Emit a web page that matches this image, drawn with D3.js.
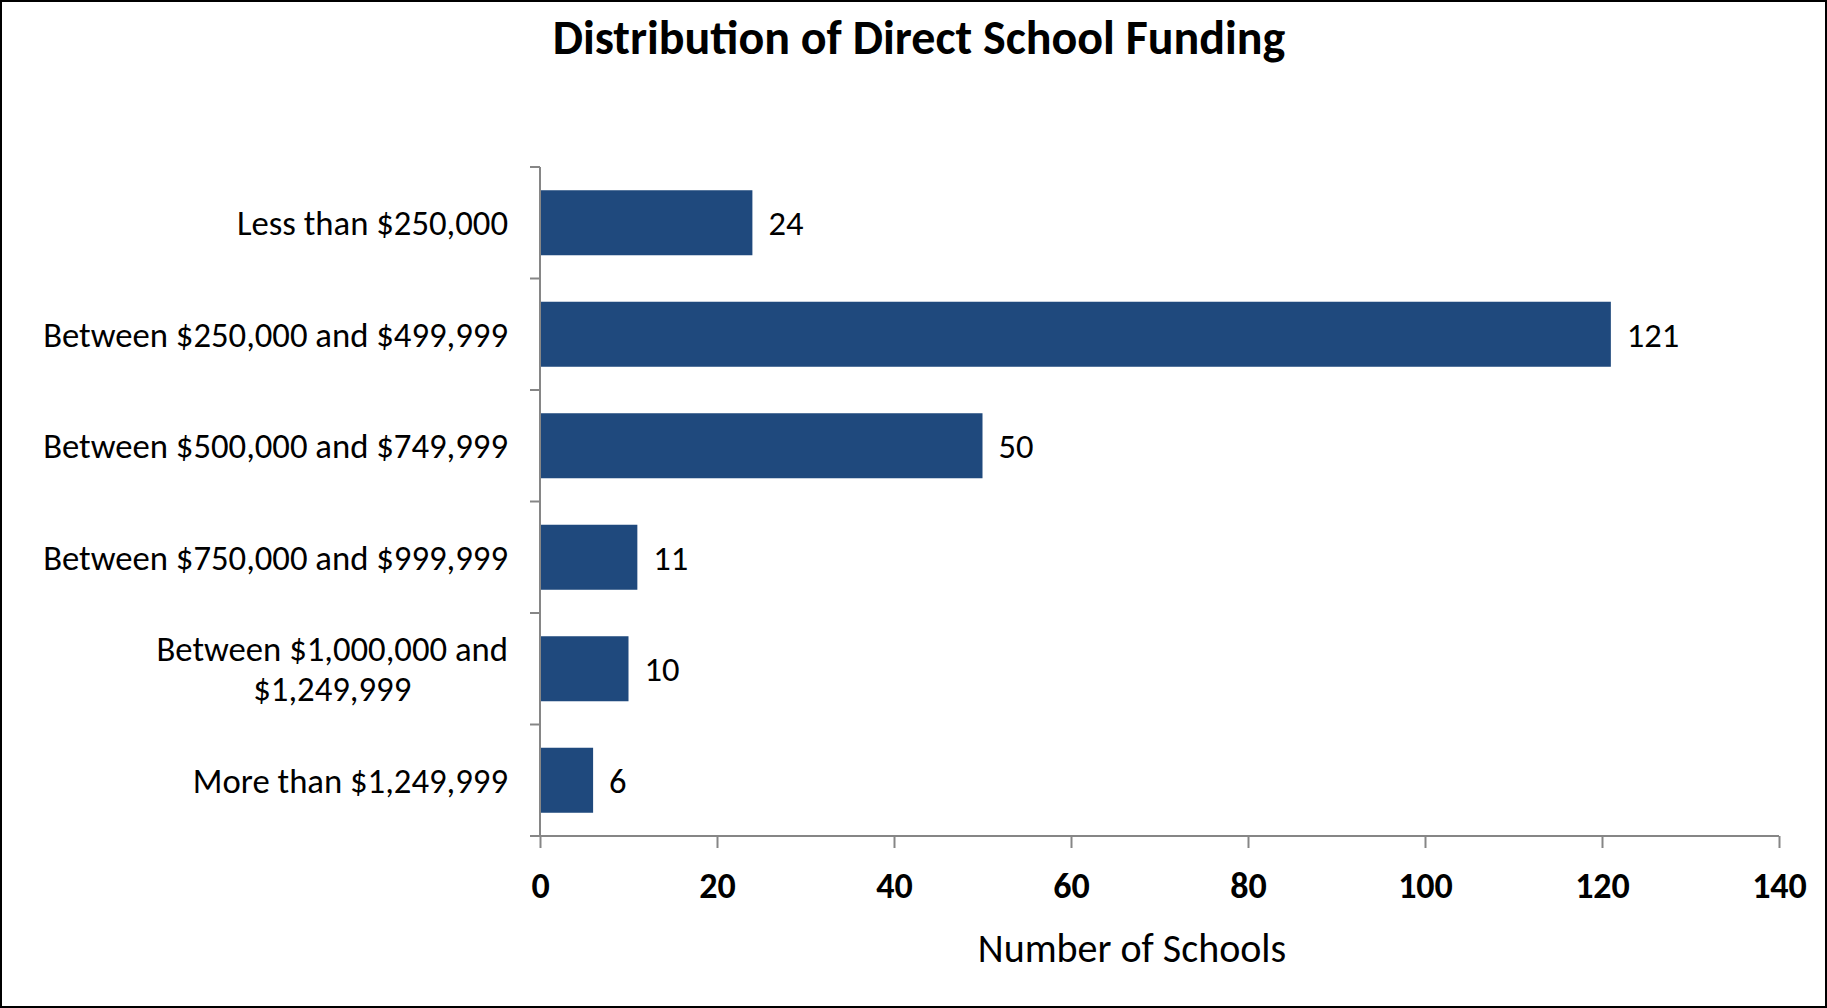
<!DOCTYPE html>
<html lang="en">
  <head>
    <title>Distribution of Direct School Funding</title>
    <meta charset="utf-8" />
    <script src="https://cdn.jsdelivr.net/npm/d3@7"></script>
    <style>
      body { margin: 0; background: white; }
      text { font-family: Carlito, Calibri, Lato, sans-serif; fill: #000; }
    </style>
  </head>
  <body>
    <script>
      // data
      const categories = [
        ["Less than $250,000"],
        ["Between $250,000 and $499,999"],
        ["Between $500,000 and $749,999"],
        ["Between $750,000 and $999,999"],
        ["Between $1,000,000 and", "$1,249,999"],
        ["More than $1,249,999"],
      ];
      const schools = [24, 121, 50, 11, 10, 6];
      const xTicks = [0, 20, 40, 60, 80, 100, 120, 140];

      const width = 1827,
        height = 1008;
      const margin = { top: 167, right: 48, bottom: 172, left: 540 };

      const svg = d3
        .select("body")
        .append("svg")
        .attr("width", width)
        .attr("height", height);

      // outer frame
      svg
        .append("rect")
        .attr("x", 1)
        .attr("y", 1)
        .attr("width", width - 2)
        .attr("height", height - 2)
        .attr("fill", "white")
        .attr("stroke", "black")
        .attr("stroke-width", 2);

      const x = d3
        .scaleLinear()
        .domain([0, 140])
        .range([margin.left, width - margin.right]);

      const keys = categories.map((c) => c.join(" "));
      const pad = 0.417;
      const y = d3
        .scaleBand()
        .domain(keys)
        .range([margin.top, height - margin.bottom])
        .paddingInner(pad)
        .paddingOuter(pad / 2);

      // title
      svg
        .append("text")
        .attr("x", 919)
        .attr("y", 54)
        .attr("text-anchor", "middle")
        .style("font-size", "48px")
        .style("font-weight", "bold")
        .text("Distribution of Direct School Funding");

      // bars
      svg
        .selectAll("rect.bar")
        .data(schools)
        .enter()
        .append("rect")
        .attr("class", "bar")
        .attr("x", x(0))
        .attr("y", (d, i) => y(keys[i]))
        .attr("width", (d) => x(d) - x(0))
        .attr("height", y.bandwidth())
        .attr("fill", "#1f497d");

      // value labels
      svg
        .selectAll("text.val")
        .data(schools)
        .enter()
        .append("text")
        .attr("class", "val")
        .attr("x", (d) => x(d) + 16)
        .attr("y", (d, i) => y(keys[i]) + y.bandwidth() / 2)
        .attr("dy", "0.36em")
        .style("font-size", "34.5px")
        .text((d) => d);

      // y axis line + ticks at band edges
      const axisColor = "#868686";
      const g = svg.append("g");
      const yTop = y.range()[0],
        yBottom = y.range()[1];
      g.append("line")
        .attr("x1", x(0))
        .attr("x2", x(0))
        .attr("y1", yTop)
        .attr("y2", yBottom)
        .attr("stroke", axisColor)
        .attr("stroke-width", 2);
      const edges = keys.map((k) => y(k) - (y.step() * pad) / 2).concat([yBottom]);
      g.selectAll("line.ytick")
        .data(edges)
        .enter()
        .append("line")
        .attr("x1", x(0) - 10)
        .attr("x2", x(0))
        .attr("y1", (d) => d)
        .attr("y2", (d) => d)
        .attr("stroke", axisColor)
        .attr("stroke-width", 2);

      // category labels (multi-line ones centred on each other, block right-aligned)
      const labelRight = 508;
      categories.forEach((lines, i) => {
        const cy = y(keys[i]) + y.bandwidth() / 2;
        const t = svg
          .append("text")
          .style("font-size", "34.7px")
          .attr("text-anchor", "end");
        if (lines.length === 1) {
          t.attr("x", labelRight).attr("y", cy).attr("dy", "0.36em").text(lines[0]);
        } else {
          const lh = 40;
          lines.forEach((l, j) => {
            t.append("tspan")
              .attr("x", labelRight)
              .attr("y", cy + (j - (lines.length - 1) / 2) * lh)
              .attr("dy", "0.36em")
              .text(l);
          });
          const w = d3.max(t.selectAll("tspan").nodes(), (n) => n.getComputedTextLength());
          t.attr("text-anchor", "middle");
          t.selectAll("tspan").attr("x", labelRight - w / 2);
        }
      });

      // x axis
      const xAxis = svg
        .append("g")
        .attr("transform", `translate(0,${yBottom})`)
        .call(d3.axisBottom(x).tickValues(xTicks).tickSize(12).tickSizeOuter(0));
      xAxis.select(".domain").attr("stroke", axisColor).attr("stroke-width", 2)
        .attr("d", `M${x(0) - 10},0H${x(140)}`);
      xAxis.selectAll(".tick line").attr("stroke", axisColor).attr("stroke-width", 2);
      xAxis
        .selectAll(".tick text")
        .attr("y", 62)
        .attr("dy", 0)
        .style("font-family", "Carlito, Calibri, Lato, sans-serif")
        .style("font-size", "36px")
        .style("font-weight", "bold")
        .attr("fill", "#000");

      // axis title
      svg
        .append("text")
        .attr("x", 1132)
        .attr("y", 962)
        .attr("text-anchor", "middle")
        .style("font-size", "40px")
        .text("Number of Schools");
    </script>
  </body>
</html>
